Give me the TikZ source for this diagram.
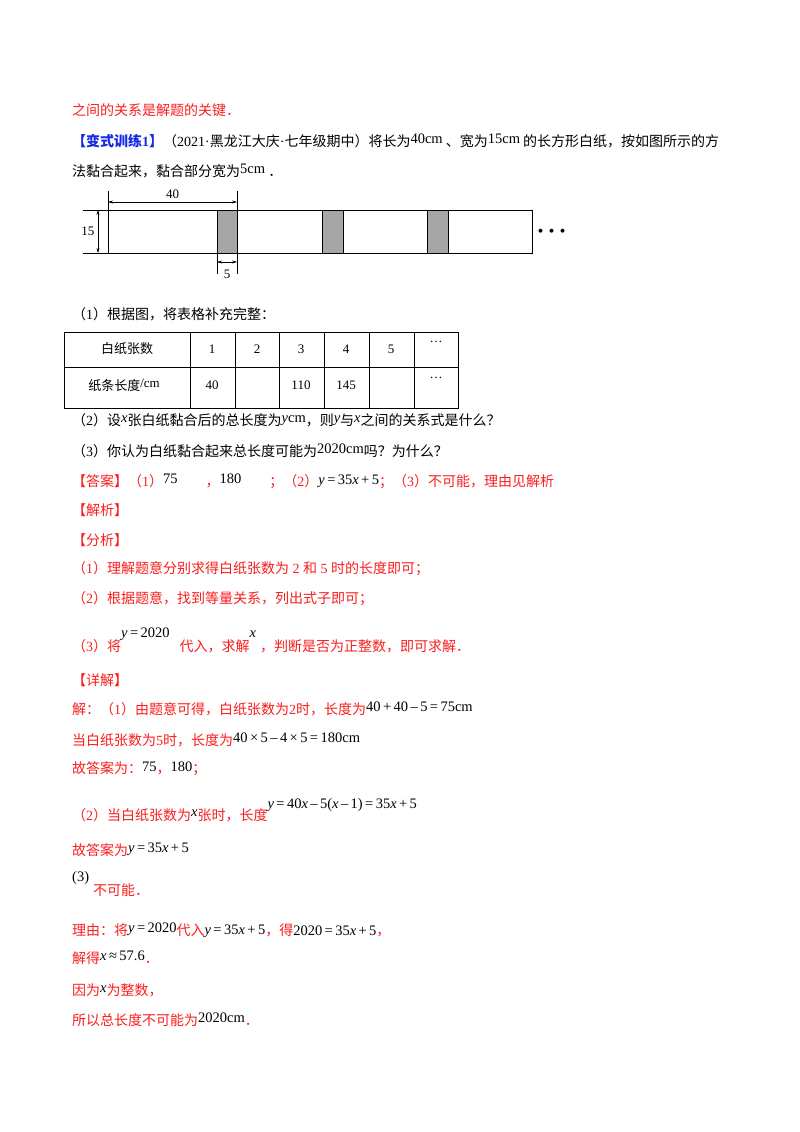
\documentclass[tikz,border=0pt]{standalone}
\usepackage{fontspec}
\usetikzlibrary{arrows.meta}
\setmainfont{Noto Sans CJK SC}
\newfontfamily\tn{Liberation Serif}
\definecolor{rd}{RGB}{250,30,30}
\definecolor{bl}{RGB}{20,40,230}
\newcommand{\T}[1]{{\tn #1}}
\newcommand{\M}[1]{{\tn\fontsize{14.5}{16}\selectfont #1}}
\newcommand{\vx}{{\itshape x}}
\newcommand{\vy}{{\itshape y}}
\newcommand{\eq}{\,=\,}
\newcommand{\pl}{\,+\,}
\newcommand{\mn}{\,\textendash\,}
\newcommand{\ti}{\,×\,}
\begin{document}
\begin{tikzpicture}[x=1pt,y=-1pt,
  txt/.style={anchor=west,inner sep=0pt,font=\fontsize{14}{16}\selectfont},
  red/.style={txt,text=rd},
  dim/.style={line width=0.5pt},
  arr/.style={dim,<->,>={Stealth[length=5pt,width=3pt]}},
  cell/.style={inner sep=0pt,font=\fontsize{13}{15}\selectfont}]
\useasboundingbox (0,0) rectangle (800,1132);
\fill[white] (0,0) rectangle (800,1132);
% header text
\node[red] (l1) at (72,110) {之间的关系是解题的关键．};
\node[txt] (l2) at (72,141) {\textcolor{bl}{\bfseries【变式训练\T{1}】}（\T{2021·}黑龙江大庆\T{·}七年级期中）将长为\raisebox{3pt}{\M{40cm}} 、宽为\raisebox{3pt}{\M{15cm}} 的长方形白纸，按如图所示的方};
\node[txt] (l3) at (72,171) {法黏合起来，黏合部分宽为\raisebox{3pt}{\M{5cm}} ．};
% strip figure
\draw[dim] (108,210) rectangle (532,253);
\foreach \a/\b in {217/237,322/343,427/448}
  \filldraw[dim,fill=gray!70] (\a,210) rectangle (\b,253);
\draw[dim] (108,191) -- (108,210);
\draw[dim] (237,191) -- (237,274);
\draw[dim] (217,253) -- (217,274);
\draw[arr] (108,202) -- node[above=0pt,font=\tn\fontsize{13}{14}\selectfont] (d40) {40} (237,202);
\draw[dim] (83,210) -- (108,210);
\draw[dim] (83,253) -- (108,253);
\draw[arr] (98,210) -- node[left=0pt,font=\tn\fontsize{13}{14}\selectfont] (d15) {15} (98,253);
\draw[arr] (217,262) -- (237,262);
\node[font=\tn\fontsize{13}{14}\selectfont] (d5) at (227,274) {5};
\node[font=\bfseries\fontsize{14}{14}\selectfont,inner sep=0pt] (dots) at (552,233) {\hspace{-1pt}·\hspace{-3pt}·\hspace{-3pt}·};
\node[txt] (q1) at (72,314) {（\T{1}）根据图，将表格补充完整：};
% table
\draw[line width=0.8pt] (64,332) rectangle (458,408);
\draw[line width=0.8pt] (64,367) -- (458,367);
\foreach \x in {190,235,279,324,369,414} \draw[line width=0.8pt] (\x,332) -- (\x,408);
\node[cell] (h0) at (127,349) {白纸张数};
\node[cell] (h1) at (212,349) {\T{1}};
\node[cell] (h2) at (257,349) {\T{2}};
\node[cell] (h3) at (301,349) {\T{3}};
\node[cell] (h4) at (346,349) {\T{4}};
\node[cell] (h5) at (391,349) {\T{5}};
\node[cell] (h6) at (436,342) {\T{…}};
\node[cell] (r0) at (124,385) {纸条长度\raisebox{3pt}{\T{/cm}}};
\node[cell] (r1) at (212,385) {\T{40}};
\node[cell] (r3) at (301,385) {\T{110}};
\node[cell] (r4) at (346,385) {\T{145}};
\node[cell] (r6) at (436,378) {\T{…}};
% questions
\node[txt] (q2) at (72,420) {（\T{2}）设\raisebox{3pt}{\M{\vx}}张白纸黏合后的总长度为\raisebox{3pt}{\M{\vy cm}}，则\raisebox{3pt}{\M{\vy}}与\raisebox{3pt}{\M{\vx}}之间的关系式是什么？};
\node[txt] (q3) at (72,451) {（\T{3}）你认为白纸黏合起来总长度可能为\raisebox{3pt}{\M{2020cm}}吗？为什么？};
\node[red] (ans) at (72,481) {【答案】（\T{1}）\raisebox{3pt}{\textcolor{black}{\M{75}}}\qquad ，\raisebox{3pt}{\textcolor{black}{\M{180}}}\qquad ；（\T{2}）\raisebox{2pt}{\textcolor{black}{\M{\vy\eq35\vx\pl5}}}；（\T{3}）不可能，理由见解析};
\node[red] (jx) at (72,510) {【解析】};
\node[red] (fx) at (72,540) {【分析】};
\node[red] (f1) at (72,569) {（\T{1}）理解题意分别求得白纸张数为\T{ 2 }和\T{ 5 }时的长度即可；};
\node[red] (f2) at (72,599) {（\T{2}）根据题意，找到等量关系，列出式子即可；};
\node[red] (f3) at (72,640) {（\T{3}）将\raisebox{14pt}{\textcolor{black}{\M{\vy\eq2020}}}\hspace{10pt}代入，求解\raisebox{14pt}{\textcolor{black}{\M{\vx}}}\hspace{4pt}，判断是否为正整数，即可求解．};
\node[red] (xj) at (72,680) {【详解】};
\node[red] (s1) at (72,709) {解：（\T{1}）由题意可得，白纸张数为\T{2}时，长度为\raisebox{3pt}{\textcolor{black}{\M{40\pl40\mn5\eq75cm}}}};
\node[red] (s2) at (72,740) {当白纸张数为\T{5}时，长度为\raisebox{3pt}{\textcolor{black}{\M{40\ti5\mn4\ti5\eq180cm}}}};
\node[red] (s3) at (72,769) {故答案为：\textcolor{black}{\raisebox{2pt}{\M{75}}}，\textcolor{black}{\raisebox{2pt}{\M{180}}}；};
\node[red] (s4) at (72,810) {（\T{2}）当白纸张数为\raisebox{4pt}{\textcolor{black}{\M{\vx}}}张时，长度\raisebox{12pt}{\textcolor{black}{\M{\vy\eq40\vx\mn5(\vx\mn1)\eq35\vx\pl5}}}};
\node[red] (s5) at (72,850) {故答案为\raisebox{3pt}{\textcolor{black}{\M{\vy\eq35\vx\pl5}}}};
\node[txt] (s6) at (72,878) {\M{(3)}};
\node[red] (s7) at (93,890) {不可能．};
\node[red] (s8) at (72,930) {理由：将\raisebox{3pt}{\textcolor{black}{\M{\vy\eq2020}}}代入\raisebox{1pt}{\textcolor{black}{\M{\vy\eq35\vx\pl5}}}，得\textcolor{black}{\M{2020\eq35\vx\pl5}}，};
\node[red] (s9) at (72,958) {解得\raisebox{3pt}{\textcolor{black}{\M{\vx\,≈\,57.6}}}．};
\node[red] (s10) at (72,990) {因为\raisebox{3pt}{\textcolor{black}{\M{\vx}}}为整数，};
\node[red] (s11) at (72,1020) {所以总长度不可能为\raisebox{3pt}{\textcolor{black}{\M{2020cm}}}．};
\end{tikzpicture}
\end{document}
